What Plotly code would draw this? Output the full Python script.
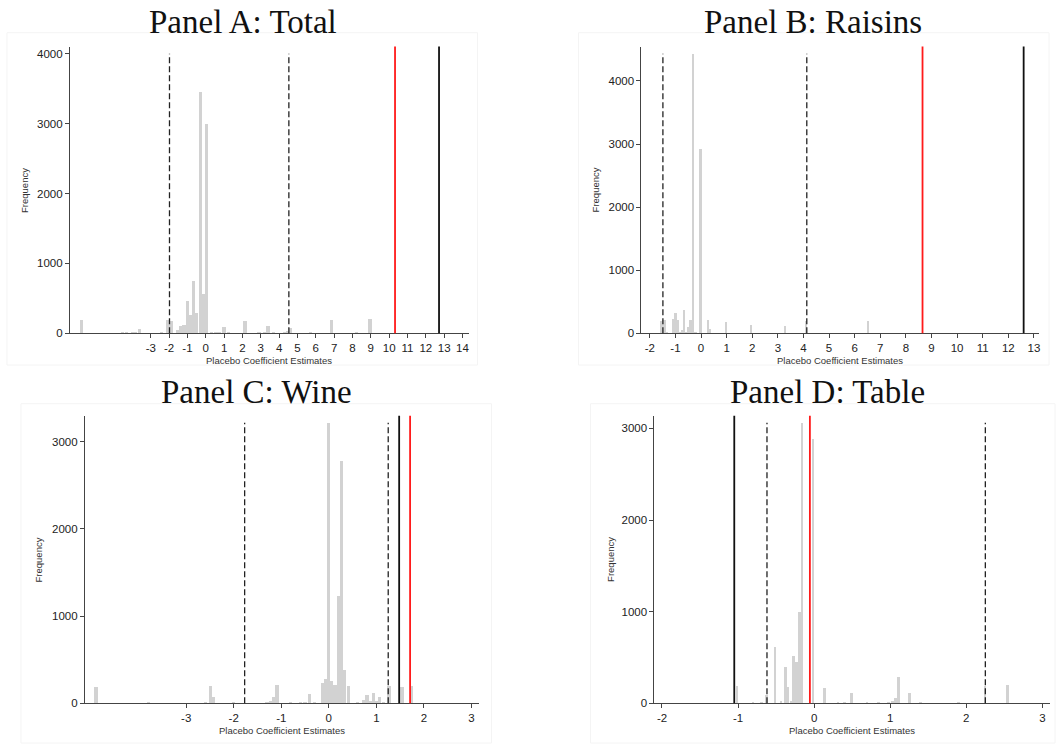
import plotly.graph_objects as go

W, H = 1056, 749

# ---------------- data ----------------
# Panel A: Total
A_centers = [-6.77, -4.55, -4.35, -4.0, -3.82, -3.62, -2.42, -2.06, -1.88, -1.54, -1.36, -1.19,
             -1.01, -0.84, -0.66, -0.49, -0.31, -0.14, 0.04, 0.30, 0.55, 0.72, 0.99, 1.25, 2.13,
             2.6, 2.9, 3.21, 3.39, 3.7, 4.28, 4.45, 4.62, 5.7, 6.2, 6.87, 8.2, 8.95]
A_counts = [195, 10, 15, 20, 25, 60, 10, 190, 180, 48, 115, 120,
            470, 262, 750, 295, 3460, 564, 3000, 10, 15, 20, 100, 10, 185,
            8, 10, 30, 105, 10, 15, 40, 80, 10, 5, 190, 10, 205]
A_dashed = [-1.98, 4.53]
A_red = 10.32
A_black = 12.72
A_xticks = list(range(-3, 15))
A_yticks = [0, 1000, 2000, 3000, 4000]

# Panel B: Raisins
B_centers = [-1.565, -1.48, -1.40, -1.31, -1.06, -0.98, -0.90, -0.82, -0.73, -0.645, -0.56, -0.475,
             -0.40, -0.315, -0.20, -0.10, -0.005, 0.29, 0.38, 0.55, 0.75, 0.99, 1.3, 1.5, 1.7, 1.97,
             2.3, 2.6, 2.8, 3.0, 3.29, 3.6, 3.9, 4.12, 5.5, 6.55]
B_counts = [205, 210, 210, 20, 236, 330, 215, 15, 65, 370, 30, 110,
            215, 4430, 15, 10, 2920, 210, 80, 10, 8, 185, 10, 8, 10, 135,
            8, 10, 8, 10, 120, 8, 10, 195, 8, 205]
B_dashed = [-1.49, 4.13]
B_red = 8.65
B_black = 12.6
B_xticks = list(range(-2, 14))
B_yticks = [0, 1000, 2000, 3000, 4000]

# Panel C: Wine
C_centers = [-4.90, -3.8, -3.1, -2.6, -2.49, -2.42, -2.0, -1.6, -1.30, -1.23, -1.16, -1.09, -0.8,
             -0.6, -0.5, -0.40, -0.3, -0.14, -0.075, -0.01, 0.06, 0.13, 0.195, 0.265, 0.335, 0.405,
             0.6, 0.73, 0.80, 0.87, 0.935, 1.0, 1.065, 1.15, 1.265, 1.54, 1.745]
C_counts = [195, 8, 5, 10, 200, 76, 8, 5, 20, 35, 80, 213, 8,
            8, 10, 107, 10, 235, 280, 3212, 255, 217, 1238, 2783, 384, 205,
            10, 40, 105, 30, 120, 35, 72, 10, 200, 190, 198]
C_dashed = [-1.77, 1.25]
C_red = 1.71
C_black = 1.48
C_xticks = list(range(-3, 4))
C_yticks = [0, 1000, 2000, 3000]

# Panel D: Table
D_centers = [-1.01, -0.80, -0.69, -0.62, -0.51, -0.43, -0.375, -0.34, -0.30, -0.266, -0.23, -0.19,
             -0.156, -0.01, 0.14, 0.32, 0.4, 0.5, 0.7, 0.85, 0.98, 1.03, 1.07, 1.11, 1.255, 1.4,
             1.9, 2.25, 2.55]
D_counts = [190, 15, 15, 95, 615, 30, 398, 181, 30, 520, 460, 1005,
            3059, 2890, 175, 20, 10, 116, 8, 8, 15, 30, 58, 290, 120, 8,
            8, 190, 205]
D_dashed = [-0.62, 2.25]
D_red = -0.056
D_black = -1.05
D_xticks = list(range(-2, 4))
D_yticks = [0, 1000, 2000, 3000]

titles = ["Panel A: Total", "Panel B: Raisins", "Panel C: Wine", "Panel D: Table"]
xlabel = "Placebo Coefficient Estimates"
ylabel = "Frequency"

# ---------------- layout geometry (pixels) ----------------
panels = [
    dict(c=A_centers, n=A_counts, w=0.175, dash=A_dashed, red=A_red, black=A_black,
         xt=A_xticks, yt=A_yticks, xr=[-7.41, 14.33], yr=[0, 4104],
         px=[70, 469], py=[47, 336], tx=243, ty=22, ylx=25),
    dict(c=B_centers, n=B_counts, w=0.085, dash=B_dashed, red=B_red, black=B_black,
         xt=B_xticks, yt=B_yticks, xr=[-2.33, 13.2], yr=[0, 4544],
         px=[642, 1040], py=[47, 336], tx=814, ty=22, ylx=597),
    dict(c=C_centers, n=C_counts, w=0.068, dash=C_dashed, red=C_red, black=C_black,
         xt=C_xticks, yt=C_yticks, xr=[-5.13, 3.15], yr=[0, 3296],
         px=[85, 479], py=[419, 709], tx=257, ty=395, ylx=39),
    dict(c=D_centers, n=D_counts, w=0.036, dash=D_dashed, red=D_red, black=D_black,
         xt=D_xticks, yt=D_yticks, xr=[-2.10, 3.10], yr=[0, 3139],
         px=[655, 1051], py=[419, 709], tx=828, ty=395, ylx=611),
]

boxes = [[7, 33, 478, 368], [579, 33, 1050, 368], [21, 407, 492, 749], [591, 407, 1056, 749]]

def fx(p):
    return p / W

def fy(p):
    return 1 - p / H

fig = go.Figure()
shapes = []
annotations = []
axis_font = dict(family="Liberation Sans, Arial, sans-serif", size=11.5, color="#222")
layout = {}

for b in boxes:
    shapes.append(dict(type="rect", xref="paper", yref="paper",
                       x0=fx(b[0]), x1=fx(b[2]), y0=fy(b[3]), y1=fy(b[1]),
                       line=dict(color="#f4f4f4", width=1), layer="below"))

for i, p in enumerate(panels):
    k = "" if i == 0 else str(i + 1)
    xa, ya = "x" + k, "y" + k
    fig.add_trace(go.Bar(x=p["c"], y=p["n"], width=p["w"], xaxis=xa, yaxis=ya,
                         marker=dict(color="#d2d2d2", line=dict(width=0)),
                         showlegend=False, hoverinfo="x+y"))
    layout["xaxis" + k] = dict(
        domain=[fx(p["px"][0]), fx(p["px"][1])], range=p["xr"], anchor=ya,
        tickmode="array", tickvals=p["xt"], ticktext=[str(v) for v in p["xt"]],
        showline=True, linecolor="#444", linewidth=1, ticks="outside", ticklen=4,
        tickcolor="#444", showgrid=False, zeroline=False, tickfont=axis_font, fixedrange=True)
    layout["yaxis" + k] = dict(
        domain=[fy(p["py"][1]), fy(p["py"][0])], range=p["yr"], anchor=xa,
        tickmode="array", tickvals=p["yt"], ticktext=[str(v) for v in p["yt"]],
        showline=True, linecolor="#444", linewidth=1, ticks="outside", ticklen=4,
        tickcolor="#444", showgrid=False, zeroline=False, tickfont=axis_font, fixedrange=True)
    for d in p["dash"]:
        shapes.append(dict(type="line", xref=xa, yref=ya + " domain", x0=d, x1=d, y0=0, y1=0.975,
                           line=dict(color="#222", width=1.3, dash="6px,3px")))
    shapes.append(dict(type="line", xref=xa, yref=ya + " domain", x0=p["red"], x1=p["red"], y0=0, y1=1,
                       line=dict(color="#ff1a1a", width=1.8)))
    shapes.append(dict(type="line", xref=xa, yref=ya + " domain", x0=p["black"], x1=p["black"], y0=0, y1=1,
                       line=dict(color="#111", width=1.8)))
    # panel title
    annotations.append(dict(text=titles[i], xref="paper", yref="paper", x=fx(p["tx"]), y=fy(p["ty"]),
                            xanchor="center", yanchor="middle", showarrow=False,
                            font=dict(family="Liberation Serif, Times New Roman, serif", size=33, color="#111")))
    # x-axis title
    annotations.append(dict(text=xlabel, xref="paper", yref="paper",
                            x=fx((p["px"][0] + p["px"][1]) / 2), y=fy(p["py"][1] + 20),
                            xanchor="center", yanchor="top", showarrow=False,
                            font=dict(family="Liberation Sans, Arial, sans-serif", size=9.5, color="#333")))
    # y-axis title
    annotations.append(dict(text=ylabel, xref="paper", yref="paper",
                            x=fx(p["ylx"]), y=fy((p["py"][0] + p["py"][1]) / 2),
                            xanchor="center", yanchor="middle", showarrow=False, textangle=-90,
                            font=dict(family="Liberation Sans, Arial, sans-serif", size=9.5, color="#333")))

fig.update_layout(
    width=W, height=H, margin=dict(l=0, r=0, t=0, b=0),
    paper_bgcolor="white", plot_bgcolor="white", bargap=0,
    shapes=shapes, annotations=annotations, **layout)

fig.write_html("out.html")
